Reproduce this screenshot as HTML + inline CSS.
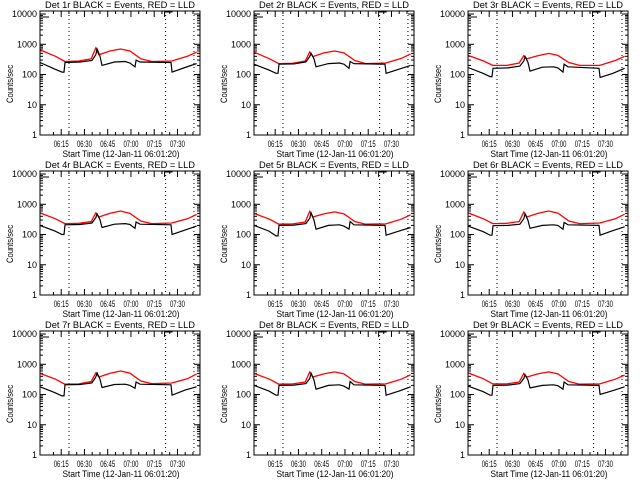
<!DOCTYPE html>
<html><head><meta charset="utf-8"><style>
body{margin:0;background:#fff}
svg{display:block}
text{font-family:"Liberation Sans",sans-serif;font-size:9px;fill:#000}
</style></head><body>
<svg id="c" width="640" height="480" xmlns="http://www.w3.org/2000/svg"></svg>
<script>
// times in minutes after 06:01:20
const blackTimes=[0,9.7,14.2,15.5,16.1,25.8,33.5,36,36.8,38.7,40,48,55,58,61.3,62,64.5,84.5,85.2,93.5,101];
const redTimes=[0,10,16,25,33,36,38,45,52,58,65,72,85,95,101];
const detNames=["1r","2r","3r","4r","5r","6r","7r","8r","9r"];
const black1=[250,150,120,120,250,260,290,450,700,400,200,260,270,240,180,300,260,250,120,170,230];
const red1=[650,400,270,280,330,750,450,600,700,600,330,270,280,400,550];
const black2=[220,140,110,110,220,225,260,400,500,330,180,230,240,220,160,270,230,220,110,150,200];
const red2=[550,330,230,235,280,560,390,520,600,520,290,230,240,340,480];
const black3=[170,110,85,85,160,165,190,280,390,250,130,175,180,165,120,220,180,160,80,110,160];
const red3=[430,280,200,200,240,420,330,420,500,430,250,200,200,290,400];
const black4=[200,130,100,100,210,215,240,360,480,310,170,220,230,215,160,260,220,210,100,140,190];
const red4=[520,330,230,235,270,520,380,500,600,500,280,230,240,330,460];
const black5=[200,130,90,90,200,205,230,350,520,300,150,200,210,190,150,270,210,200,95,130,170];
const red5=[500,320,220,225,260,580,380,480,560,480,270,220,225,320,450];
const black6=[190,125,95,95,195,200,220,330,480,290,160,200,210,200,150,250,210,200,95,135,180];
const red6=[520,330,230,235,270,550,380,500,600,510,280,230,240,330,470];
const black7=[180,115,90,90,210,215,240,380,520,320,170,215,220,200,160,260,220,210,95,140,180];
const red7=[500,320,220,225,270,520,380,500,600,510,280,230,240,330,480];
const black8=[200,130,95,95,200,205,230,340,500,300,150,200,210,190,150,270,210,200,95,130,180];
const red8=[500,320,220,225,260,560,380,480,560,480,270,220,225,320,450];
const black9=[190,125,95,95,200,205,230,340,450,300,165,200,210,195,150,260,210,200,100,135,180];
const red9=[520,330,225,225,260,500,380,480,560,480,270,220,225,320,440];
const blackSets=[black1,black2,black3,black4,black5,black6,black7,black8,black9];
const redSets=[red1,red2,red3,red4,red5,red6,red7,red8,red9];
const xTickLabels=["06:15","06:30","06:45","07:00","07:15","07:30"];
const xTickTimes=[13.67,28.67,43.67,58.67,73.67,88.67];
const yTickVals=[1,10,100,1000,10000];
const yTickLabels=["1","10","100","1000","10000"];
const markerTimes=[18.7,81,99.3];

const NS="http://www.w3.org/2000/svg";
const svg=document.getElementById('c');
function el(tag,attrs,parent){const e=document.createElementNS(NS,tag);for(const k in attrs)e.setAttribute(k,attrs[k]);(parent||svg).appendChild(e);return e;}
const W=160,H=124,TMAX=103.2,LTOP=4.1;
for(let p=0;p<9;p++){
  const col=p%3,row=Math.floor(p/3);
  const x0=40+col*214,y0=11+row*160;
  const xs=t=>x0+t/TMAX*W;
  const ys=v=>y0+H*(LTOP-Math.log10(v))/LTOP;
  const g=el('g',{});
  
  
  const title=el('text',{x:x0+W/2,y:y0-3,'text-anchor':'middle',textLength:150,lengthAdjust:'spacingAndGlyphs'},g);
  title.textContent='Det '+detNames[p]+' BLACK = Events, RED = LLD';
  
  
  markerTimes.forEach(t=>{const l=el('line',{x1:xs(t),x2:xs(t),y1:y0,y2:y0+H,stroke:'#000','stroke-width':1,'stroke-dasharray':'1,3'},g);
    
    });
  const br=el('path',{d:`M${x0+1},${y0+6}H${x0+9}M${xs(81)-1},${y0+6}V${y0+1}H${xs(81)+7}`,stroke:'#000',fill:'none'},g);
  
  
  yTickVals.forEach((v,i)=>{const y=ys(v);
    el('line',{x1:x0,x2:x0+6,y1:y,y2:y,stroke:'#000'},g);
    el('line',{x1:x0+W-6,x2:x0+W,y1:y,y2:y,stroke:'#000'},g);
    const tx=el('text',{x:x0-3,y:y+3,'text-anchor':'end','font-size':'8.5'},g);tx.textContent=yTickLabels[i];
    
    
    if(i<yTickVals.length-1)for(let m=2;m<10;m++){const ym=ys(v*m);
      el('line',{x1:x0,x2:x0+3,y1:ym,y2:ym,stroke:'#000'},g);
      el('line',{x1:x0+W-3,x2:x0+W,y1:ym,y2:ym,stroke:'#000'},g);}
  });
  xTickTimes.forEach((t,i)=>{const x=xs(t);
    el('line',{x1:x,x2:x,y1:y0+H,y2:y0+H-6,stroke:'#000'},g);
    el('line',{x1:x,x2:x,y1:y0,y2:y0+6,stroke:'#000'},g);
    const tx=el('text',{x:x,y:y0+H+12,'text-anchor':'middle','font-size':'8',textLength:15,lengthAdjust:'spacingAndGlyphs'},g);tx.textContent=xTickLabels[i];
    
    
    for(let m=1;m<3;m++){const xm=xs(t+m*5);if(xm<x0+W){
      el('line',{x1:xm,x2:xm,y1:y0+H,y2:y0+H-3,stroke:'#000'},g);
      el('line',{x1:xm,x2:xm,y1:y0,y2:y0+3,stroke:'#000'},g);}}
    const xm=xs(t-5);if(i==0){el('line',{x1:xm,x2:xm,y1:y0+H,y2:y0+H-3,stroke:'#000'},g);el('line',{x1:xm,x2:xm,y1:y0,y2:y0+3,stroke:'#000'},g);}
  });
  const xl=el('text',{x:x0+W/2+1,y:y0+H+22,'text-anchor':'middle',textLength:117,lengthAdjust:'spacingAndGlyphs'},g);xl.textContent='Start Time (12-Jan-11 06:01:20)';
  
  
  const yl=el('text',{x:0,y:0,'text-anchor':'middle','font-size':'8',textLength:38,lengthAdjust:'spacingAndGlyphs',transform:`translate(${x0-27},${y0+H/2+11}) rotate(-90)`},g);yl.textContent='Counts/sec';
  
  
  const rd=redSets[p].map((v,i)=>(i?'L':'M')+xs(redTimes[i]).toFixed(1)+','+ys(v).toFixed(1)).join('');
  const rl=el('path',{d:rd,stroke:'#f00','stroke-width':1.3,fill:'none'},g);
  
  
  const bd=blackSets[p].map((v,i)=>(i?'L':'M')+xs(blackTimes[i]).toFixed(1)+','+ys(v).toFixed(1)).join('');
  const bl=el('path',{d:bd,stroke:'#000','stroke-width':1.2,fill:'none'},g);
  
  
  const fr=el('rect',{x:x0,y:y0,width:W,height:H,fill:'none',stroke:'#000','stroke-width':1},g);
  
  
}
</script>
</body></html>
